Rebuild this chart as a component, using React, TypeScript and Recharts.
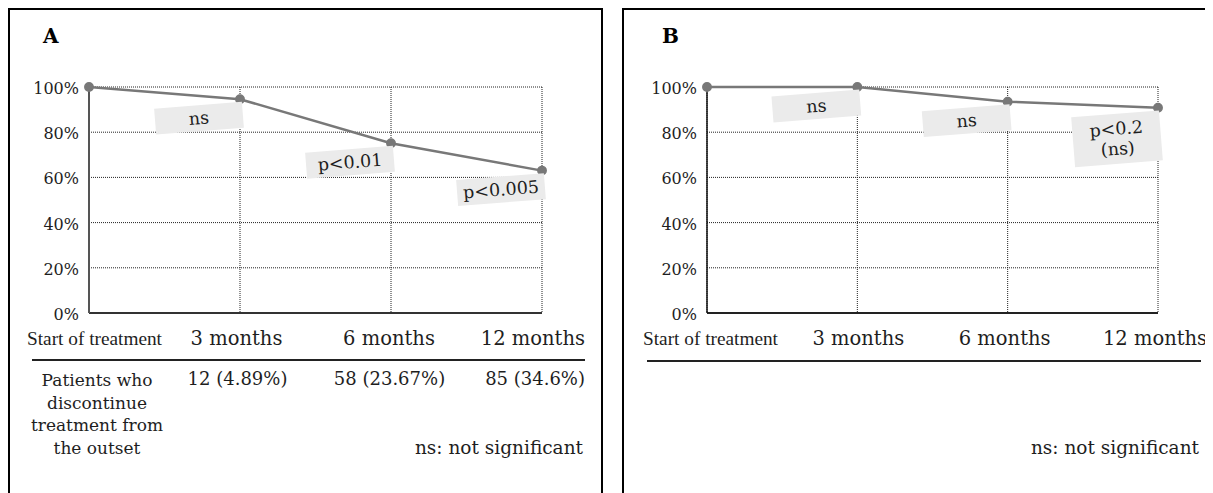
import React from "react";
import { LineChart, Line, XAxis, YAxis, CartesianGrid, LabelList } from "recharts";

const categories = ["Start of treatment", "3 months", "6 months", "12 months"];
const persistenceA = [100, 94.6, 75.1, 63.0];
const persistenceB = [100, 100, 93.5, 90.8];
const notesA = ["", "ns", "p<0.01", "p<0.005"];
const notesB = ["", "ns", "ns", "p<0.2\n(ns)"];
const yTicks = [0, 20, 40, 60, 80, 100];
const rowLabelA = ["Patients who", "discontinue", "treatment from", "the outset"];
const discontinuedA = ["12 (4.89%)", "58 (23.67%)", "85 (34.6%)"];
const footnote = "ns: not significant";

const FONT = "'DejaVu Serif', serif";
const NARROW = "'Liberation Serif', serif";
const INK = "#1e1e1e";
const LINE = "#787878";

function Annotation(props: any) {
  const { value } = props;
  if (!value) return null;
  const x = props.x ?? props.viewBox?.x;
  const y = props.y ?? props.viewBox?.y;
  const lines = String(value).split("\n");
  const w = 88;
  const h = lines.length > 1 ? 50 : 26;
  const cx = x - 41;
  const cy = y + 6 + h / 2;
  return (
    <g transform={`rotate(-4.5 ${cx} ${cy})`}>
      <rect x={cx - w / 2} y={cy - h / 2} width={w} height={h} fill="#ebebeb" />
      {lines.map((t, i) => (
        <text
          key={i}
          x={cx}
          y={cy + 6 + (i - (lines.length - 1) / 2) * 20}
          textAnchor="middle"
          fontFamily={FONT}
          fontSize={17.5}
          fill={INK}
        >
          {t}
        </text>
      ))}
    </g>
  );
}

function makeXTick(shifts: { dx: number; anchor: string }[]) {
  return (props: any) => {
    const { x, y, payload, index } = props;
    const s = shifts[index] || { dx: 0, anchor: "middle" };
    // the first column heading is set in a narrower face, as in the original
    const first = index === 0;
    return (
      <text
        x={x + s.dx}
        y={y + 32}
        textAnchor={s.anchor as any}
        fontFamily={first ? NARROW : FONT}
        fontSize={first ? 19.3 : 19.5}
        fill={INK}
      >
        {payload.value}
      </text>
    );
  };
}

function YTick(props: any) {
  const { x, y, payload } = props;
  return (
    <text x={x} y={y + 7} textAnchor="end" fontFamily={FONT} fontSize={16} fill={INK}>
      {payload.value}%
    </text>
  );
}

function Panel({ values, notes, width, yAxisWidth, right, shifts, yAxisStyle, xAxisStyle }: any) {
  const data = categories.map((c, i) => ({ period: c, value: values[i], note: notes[i] }));
  return (
    <LineChart
      width={width}
      height={400}
      data={data}
      margin={{ top: 79, right, left: 0, bottom: 55 }}
    >
      <CartesianGrid stroke="#222" strokeDasharray="1 1" />
      <XAxis
        dataKey="period"
        scale="point"
        padding={{ left: 0, right: 0 }}
        height={40}
        tickLine={false}
        tickSize={0}
        tickMargin={0}
        axisLine={xAxisStyle}
        tick={makeXTick(shifts)}
        interval={0}
      />
      <YAxis
        domain={[0, 100]}
        ticks={yTicks}
        width={yAxisWidth}
        tickLine={false}
        tickSize={0}
        tickMargin={10}
        axisLine={yAxisStyle}
        tick={<YTick />}
        interval={0}
      />
      <Line
        type="linear"
        dataKey="value"
        stroke={LINE}
        strokeWidth={2.5}
        dot={{ r: 4.2, fill: LINE, stroke: LINE, strokeWidth: 1.5 }}
        isAnimationActive={false}
      >
        <LabelList dataKey="note" content={<Annotation />} />
      </Line>
    </LineChart>
  );
}

export default function App() {
  return (
    <div style={{ position: "relative", width: 1205, height: 485, overflow: "hidden", fontFamily: FONT }}>
      {/* panel frames */}
      <div
        style={{
          position: "absolute", left: 0, top: 0, width: 595, height: 485, boxSizing: "border-box",
          borderTop: "2px solid #000", borderLeft: "2px solid #000", borderRight: "2px solid #000",
        }}
      />
      <div
        style={{
          position: "absolute", left: 614, top: 0, width: 591, height: 485, boxSizing: "border-box",
          borderTop: "2px solid #000", borderLeft: "2px solid #000",
        }}
      />

      {/* text and rules around the charts */}
      <svg style={{ position: "absolute", left: 0, top: 0 }} width={1205} height={485}>
        <text x={35} y={35} fontFamily={FONT} fontWeight="bold" fontSize={20} fill="#000">A</text>
        <text x={654} y={35} fontFamily={FONT} fontWeight="bold" fontSize={20} fill="#000">B</text>

        <line x1={24} x2={577} y1={352} y2={352} stroke="#222" strokeWidth={2} />
        <line x1={639} x2={1193} y1={353} y2={353} stroke="#222" strokeWidth={2} />

        {rowLabelA.map((t, i) => (
          <text key={t} x={89} y={378 + i * 22.5} textAnchor="middle" fontFamily={FONT} fontSize={17} fill={INK}>
            {t}
          </text>
        ))}
        <text x={229.5} y={377} textAnchor="middle" fontFamily={FONT} fontSize={18} fill={INK}>{discontinuedA[0]}</text>
        <text x={381.5} y={377} textAnchor="middle" fontFamily={FONT} fontSize={18} fill={INK}>{discontinuedA[1]}</text>
        <text x={577} y={377} textAnchor="end" fontFamily={FONT} fontSize={18} fill={INK}>{discontinuedA[2]}</text>

        <text x={575} y={446} textAnchor="end" fontFamily={FONT} fontSize={18.5} fill={INK}>{footnote}</text>
        <text x={1191} y={446} textAnchor="end" fontFamily={FONT} fontSize={18.5} fill={INK}>{footnote}</text>
      </svg>

      <div style={{ position: "absolute", left: 0, top: 0 }}>
        <Panel
          values={persistenceA}
          notes={notesA}
          width={595}
          yAxisWidth={81}
          right={61}
          shifts={[
            { dx: 5.5, anchor: "middle" },
            { dx: -3.5, anchor: "middle" },
            { dx: -2, anchor: "middle" },
            { dx: 43, anchor: "end" },
          ]}
          yAxisStyle={{ stroke: "#555", strokeWidth: 2 }}
          xAxisStyle={{ stroke: "#333", strokeWidth: 2 }}
        />
      </div>
      <div style={{ position: "absolute", left: 614, top: 0 }}>
        <Panel
          values={persistenceB}
          notes={notesB}
          width={591}
          yAxisWidth={85}
          right={55}
          shifts={[
            { dx: 3.5, anchor: "middle" },
            { dx: 1, anchor: "middle" },
            { dx: -3, anchor: "middle" },
            { dx: -3, anchor: "middle" },
          ]}
          yAxisStyle={{ stroke: "#111", strokeWidth: 1.5 }}
          xAxisStyle={{ stroke: "#222", strokeWidth: 2 }}
        />
      </div>
    </div>
  );
}
